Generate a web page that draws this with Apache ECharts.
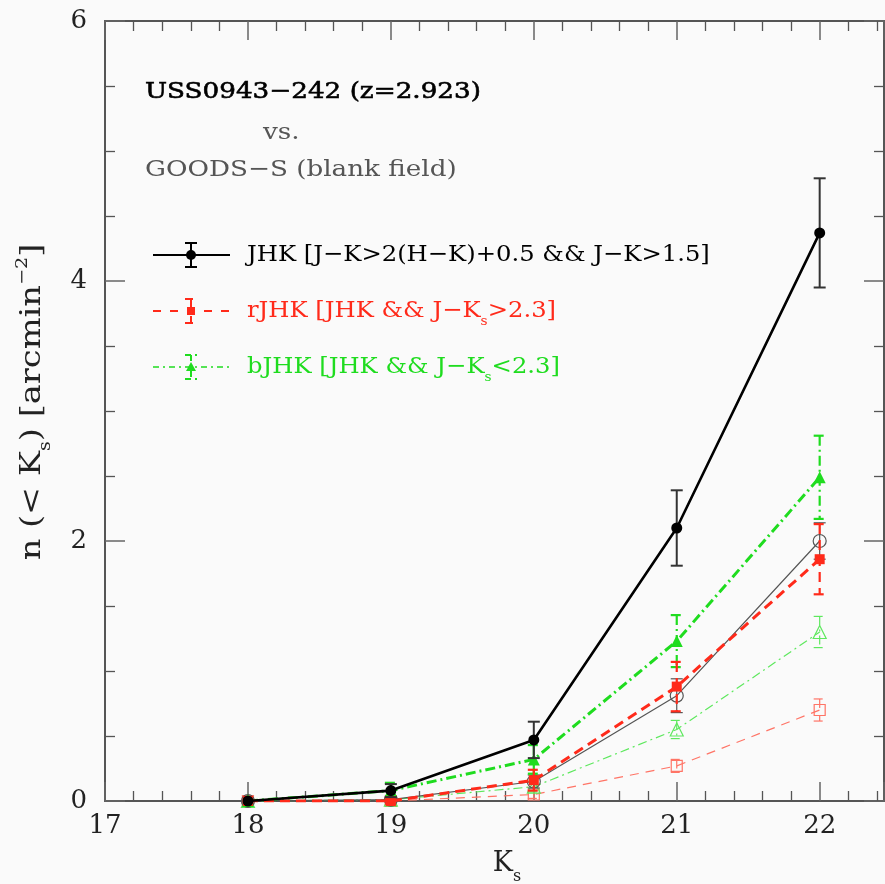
<!DOCTYPE html>
<html>
<head>
<meta charset="utf-8">
<script src="https://cdn.jsdelivr.net/npm/echarts@6/dist/echarts.min.js"></script>
<style>
  html, body { margin: 0; padding: 0; background: #fafafa; }
  #chart { width: 885px; height: 884px; }
</style>
</head>
<body>
<div id="chart"></div>
<script>
// Cumulative surface density n(<Ks) per magnitude bin
const magBins = [18, 19, 20, 21, 22];

// USS0943-242 field
const jhkVals  = [0, 0.08, 0.47, 2.10, 4.37];
const jhkErr   = [0, 0.05, 0.14, 0.29, 0.42];
const rjhkVals = [0, 0.00, 0.16, 0.88, 1.86];
const rjhkErr  = [0, 0.02, 0.08, 0.19, 0.27];
const bjhkVals = [0, 0.08, 0.32, 1.23, 2.49];
const bjhkErr  = [0, 0.06, 0.11, 0.20, 0.32];

// GOODS-S blank field
const goodsVals  = [0, 0.01, 0.15, 0.81, 2.00];
const goodsErr   = [0, 0.01, 0.05, 0.13, 0.14];
const goodsRVals = [0, 0.00, 0.05, 0.27, 0.70];
const goodsRErr  = [0, 0.00, 0.03, 0.05, 0.085];
const goodsBVals = [0, 0.01, 0.11, 0.55, 1.30];
const goodsBErr  = [0, 0.01, 0.04, 0.07, 0.12];

const xTicks = [17, 18, 19, 20, 21, 22];
const yTicks = [0, 2, 4, 6];

const BLACK = '#000000';
const RED = '#ff2a1a';
const GREEN = '#1fdc1f';
const GRAY = '#555555';
const LRED = '#ff7466';
const LGREEN = '#5ee85e';
const FONT = '"DejaVu Serif", "Liberation Serif", serif';
const WIDE = 1.14;      // horizontal stretch for the heading text
const WIDE_LEG = 1.055; // horizontal stretch for legend labels

function pairs(vals) { return magBins.map((m, i) => [m, vals[i]]); }
function errRows(vals, errs) { return magBins.map((m, i) => [m, vals[i], errs[i]]); }

function errorBarSeries(name, vals, errs, color, width, dash, cap, z) {
  return {
    type: 'custom',
    name: name,
    z: z,
    data: errRows(vals, errs),
    renderItem: function (params, api) {
      const x = api.value(0), y = api.value(1), e = api.value(2);
      if (!(e > 0)) return null;
      const hi = api.coord([x, y + e]);
      const lo = api.coord([x, y - e]);
      const style = { stroke: color, lineWidth: width, lineDash: dash, fill: null };
      return {
        type: 'group',
        children: [
          { type: 'line', shape: { x1: hi[0], y1: hi[1], x2: lo[0], y2: lo[1] }, style: style },
          { type: 'line', shape: { x1: hi[0] - cap, y1: hi[1], x2: hi[0] + cap, y2: hi[1] }, style: style },
          { type: 'line', shape: { x1: lo[0] - cap, y1: lo[1], x2: lo[0] + cap, y2: lo[1] }, style: style }
        ]
      };
    }
  };
}

function lineSeries(name, vals, color, width, dash, symbol, size, filled, z) {
  return {
    type: 'line',
    name: name,
    z: z,
    data: pairs(vals),
    symbol: symbol,
    symbolSize: size,
    showAllSymbol: true,
    lineStyle: { color: color, width: width, type: dash },
    itemStyle: filled
      ? { color: color, borderColor: color, borderWidth: 0 }
      : { color: 'rgba(0,0,0,0)', borderColor: color, borderWidth: 1.2 },
    emphasis: { disabled: true },
    animation: false
  };
}

const DASH_R = [10, 6];
const DASH_G = [10, 4, 2, 4];
const DASH_LR = [9, 7];
const DASH_LG = [9, 4, 2, 4];

const series = [
  // blank field (thin)
  errorBarSeries('goodsRErr', goodsRVals, goodsRErr, LRED, 1.2, DASH_LR, 6, 2),
  lineSeries('GOODS-S r', goodsRVals, LRED, 1.2, DASH_LR, 'rect', 11, false, 2),
  errorBarSeries('goodsBErr', goodsBVals, goodsBErr, LGREEN, 1.2, DASH_LG, 6, 2),
  lineSeries('GOODS-S b', goodsBVals, LGREEN, 1.2, DASH_LG, 'triangle', 13, false, 2),
  errorBarSeries('goodsErr', goodsVals, goodsErr, GRAY, 1.2, 'solid', 6, 3),
  lineSeries('GOODS-S', goodsVals, GRAY, 1.2, 'solid', 'circle', 13, false, 3),
  // USS0943-242 (thick)
  errorBarSeries('bjhkErr', bjhkVals, bjhkErr, GREEN, 2.2, DASH_G, 6, 4),
  lineSeries('bJHK', bjhkVals, GREEN, 3, DASH_G, 'triangle', 12, true, 4),
  errorBarSeries('rjhkErr', rjhkVals, rjhkErr, RED, 2.2, DASH_R, 6, 5),
  lineSeries('rJHK', rjhkVals, RED, 3, DASH_R, 'rect', 10, true, 5),
  errorBarSeries('jhkErr', jhkVals, jhkErr, '#333333', 2, 'solid', 6, 6),
  lineSeries('JHK', jhkVals, BLACK, 2.6, 'solid', 'circle', 11, true, 6)
];

const subStyle = (color, size, drop) => ({
  fontSize: size, fontFamily: FONT, fill: color, verticalAlign: 'bottom', padding: [0, 0, -drop, 0]
});

// Legend drawn as graphic samples: line, marker and error bar
function legendSample(y, color, width, dash, markerShape, label) {
  const els = [];
  const lineStyle = { stroke: color, lineWidth: width, lineDash: dash };
  els.push({ type: 'line', shape: { x1: 153, y1: y, x2: 230, y2: y }, style: lineStyle, silent: true });
  const ebStyle = { stroke: color, lineWidth: 2, lineDash: dash };
  els.push({ type: 'line', shape: { x1: 191, y1: y - 12, x2: 191, y2: y + 12 }, style: ebStyle });
  els.push({ type: 'line', shape: { x1: 185, y1: y - 12, x2: 197, y2: y - 12 }, style: ebStyle });
  els.push({ type: 'line', shape: { x1: 185, y1: y + 12, x2: 197, y2: y + 12 }, style: ebStyle });
  if (markerShape === 'circle') {
    els.push({ type: 'circle', shape: { cx: 191, cy: y, r: 5 }, style: { fill: color } });
  } else if (markerShape === 'rect') {
    els.push({ type: 'rect', shape: { x: 187, y: y - 4, width: 8, height: 8 }, style: { fill: color } });
  } else {
    els.push({ type: 'polygon', shape: { points: [[191, y - 5], [196, y + 4], [186, y + 4]] }, style: { fill: color } });
  }
  els.push({
    type: 'text', x: 247, y: y, scaleX: WIDE_LEG,
    style: {
      text: label, fill: color, font: '23px ' + FONT, verticalAlign: 'middle',
      rich: { sub: subStyle(color, 13, 6) }
    }
  });
  return els;
}

const frameAxis = {
  axisLine: { show: true, onZero: false, lineStyle: { color: '#555', width: 2 } },
  splitLine: { show: false }
};

const option = {
  backgroundColor: '#fafafa',
  animation: false,
  grid: { left: 105, right: 1, top: 21, bottom: 83, containLabel: false },
  xAxis: [
    Object.assign({}, frameAxis, {
      type: 'value', position: 'bottom', min: 17, max: 22.45, interval: 1,
      axisTick: { show: true, inside: true, length: 19, lineStyle: { color: '#666', width: 1.5 } },
      minorTick: { show: true, splitNumber: 5, length: 10, lineStyle: { color: '#555', width: 1.3 } },
      axisLabel: {
        show: true, margin: 12, color: '#222', fontSize: 26, fontFamily: FONT,
        showMaxLabel: false,
        formatter: function (v) { return xTicks.indexOf(v) >= 0 ? String(v) : ''; }
      }
    }),
    Object.assign({}, frameAxis, {
      type: 'value', position: 'top', min: 17, max: 22.45, interval: 1,
      axisTick: { show: true, inside: true, length: 19, lineStyle: { color: '#666', width: 1.5 } },
      minorTick: { show: true, splitNumber: 5, length: 10, lineStyle: { color: '#555', width: 1.3 } },
      axisLabel: { show: false }
    })
  ],
  yAxis: [
    Object.assign({}, frameAxis, {
      type: 'value', position: 'left', min: 0, max: 6, interval: 2,
      axisTick: { show: true, inside: true, length: 20, lineStyle: { color: '#666', width: 1.5 } },
      minorTick: { show: true, splitNumber: 4, length: 10, lineStyle: { color: '#555', width: 1.3 } },
      axisLabel: {
        show: true, margin: 18, color: '#222', fontSize: 26, fontFamily: FONT,
        formatter: function (v) { return yTicks.indexOf(v) >= 0 ? String(v) : ''; }
      }
    }),
    Object.assign({}, frameAxis, {
      type: 'value', position: 'right', min: 0, max: 6, interval: 2,
      axisTick: { show: true, inside: true, length: 20, lineStyle: { color: '#666', width: 1.5 } },
      minorTick: { show: true, splitNumber: 4, length: 10, lineStyle: { color: '#555', width: 1.3 } },
      axisLabel: { show: false }
    })
  ],
  series: series,
  graphic: [
    {
      type: 'text', x: 145, y: 92, scaleX: WIDE,
      style: { text: 'USS0943−242 (z=2.923)', fill: '#000', font: '23px ' + FONT, stroke: '#000', lineWidth: 0.6, verticalAlign: 'middle' }
    },
    {
      type: 'text', x: 263, y: 133, scaleX: WIDE,
      style: { text: 'vs.', fill: '#555', font: '23px ' + FONT, verticalAlign: 'middle' }
    },
    {
      type: 'text', x: 145, y: 170, scaleX: WIDE,
      style: { text: 'GOODS−S (blank field)', fill: '#555', font: '23px ' + FONT, verticalAlign: 'middle' }
    },
    ...legendSample(255, BLACK, 2.2, null, 'circle', 'JHK [J−K>2(H−K)+0.5 && J−K>1.5]'),
    ...legendSample(311, RED, 2.2, [8, 9], 'rect', 'rJHK [JHK && J−K{sub|s}>2.3]'),
    ...legendSample(367, GREEN, 1.6, [6, 4, 2, 4], 'triangle', 'bJHK [JHK && J−K{sub|s}<2.3]'),
    {
      type: 'text', x: 33, y: 402, rotation: Math.PI / 2, scaleX: 1.2,
      style: {
        text: 'n (< K{sub|s}) [arcmin{sup|−2}]', fill: '#222', font: '28px ' + FONT,
        align: 'center', verticalAlign: 'middle',
        rich: {
          sub: subStyle('#222', 16, 7),
          sup: { fontSize: 16, fontFamily: FONT, fill: '#222', verticalAlign: 'top', padding: [-4, 0, 0, 0] }
        }
      }
    },
    {
      type: 'text', x: 507, y: 864,
      style: {
        text: 'K{sub|s}', fill: '#222', font: '27px ' + FONT, align: 'center', verticalAlign: 'middle',
        rich: { sub: subStyle('#222', 16, 7) }
      }
    }
  ]
};

const chart = echarts.init(document.getElementById('chart'), null, { renderer: 'canvas' });
chart.setOption(option);
</script>
</body>
</html>
